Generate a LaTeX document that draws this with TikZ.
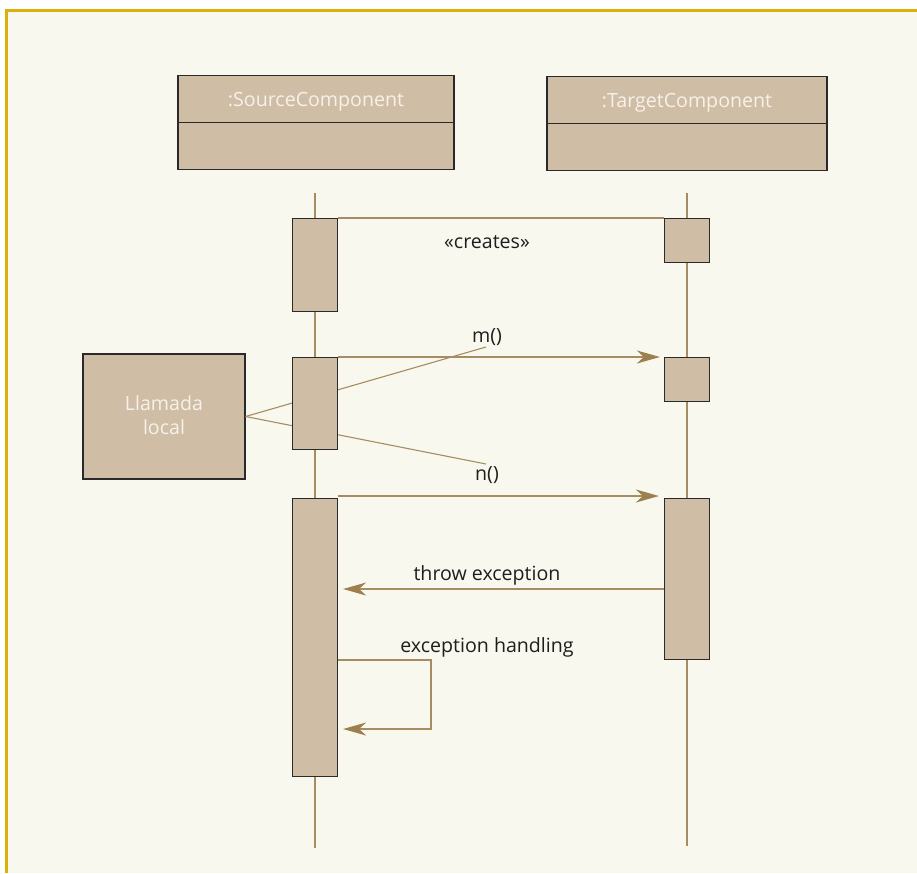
\documentclass[tikz,border=0pt]{standalone}
\usepackage{fontspec}
\setmainfont{Open Sans}
\usetikzlibrary{arrows.meta}
\definecolor{paper}{HTML}{F9F8EE}
\definecolor{frame}{HTML}{DDAF0A}
\definecolor{boxfill}{HTML}{D0BDA5}
\definecolor{boxline}{HTML}{2A2A2A}
\definecolor{wire}{HTML}{A68C62}
\definecolor{tip}{HTML}{9E7F4E}
\definecolor{ink}{HTML}{1E1E1E}
\definecolor{pale}{HTML}{F6F2EA}
\tikzset{
  headbox/.style={draw=boxline, line width=1.2pt, fill=boxfill, minimum width=276pt,
    minimum height=47pt, inner sep=0pt, anchor=north},
  actbox/.style={draw=boxline, line width=1.2pt, fill=boxfill, minimum width=45pt,
    inner sep=0pt, anchor=north},
  lifeline/.style={draw=wire, line width=1.1pt},
  msg/.style={draw=wire, line width=1.1pt},
  call/.style={msg, -{Stealth[length=23pt,width=13pt,inset=7pt,fill=tip,color=tip]}},
  lbl/.style={text=ink, font=\fontsize{19.6}{23.5}\selectfont, anchor=base, inner sep=0pt},
  wlbl/.style={text=pale, font=\fontsize{19.6}{23.5}\selectfont, anchor=base, inner sep=0pt},
}
\begin{document}
\begin{tikzpicture}[x=1pt,y=-1pt]
  \useasboundingbox (0,0) rectangle (917,873);
  % page and frame
  \fill[paper] (6,10) rectangle (917,873);
  \draw[frame, line width=3pt] (6,873) -- (6,10) -- (917,10);

  % component headers
  \node[headbox] (srcHead) at (316,75) {};
  \node[headbox, anchor=north] (srcBody) at (316,122) {};
  \node[wlbl] (srcName) at (316,106.5) {:SourceComponent};
  \node[headbox, minimum width=280pt] (tgtHead) at (687,76) {};
  \node[headbox, minimum width=280pt] (tgtBody) at (687,123) {};
  \node[wlbl] (tgtName) at (687,107) {:TargetComponent};

  % lifelines
  \coordinate (srcTop) at (315,193);
  \coordinate (srcEnd) at (315,848);
  \coordinate (tgtTop) at (687,193);
  \coordinate (tgtEnd) at (687,846);
  \draw[lifeline] (srcTop) -- (srcEnd);
  \draw[lifeline] (tgtTop) -- (tgtEnd);

  % local call note and its two leaders (they run behind the activation)
  \node[draw=boxline, line width=1.2pt, fill=boxfill, minimum width=162pt,
        minimum height=125pt, inner sep=0pt] (local) at (164,416.5) {};
  \node[wlbl] (localA) at (164,410.5) {Llamada};
  \node[wlbl] (localB) at (164,434) {local};
  \coordinate (mTail) at (486,347);
  \coordinate (nTail) at (486,464);
  \draw[msg] (local.east) -- (mTail);
  \draw[msg] (local.east) -- (nTail);

  % activations
  \node[actbox, minimum height=93pt] (sAct1) at (315,218) {};
  \node[actbox, minimum height=92pt] (sAct2) at (315,357) {};
  \node[actbox, minimum height=278pt] (sAct3) at (315,498) {};
  \node[actbox, minimum height=44pt] (tAct1) at (687,218) {};
  \node[actbox, minimum height=44pt] (tAct2) at (687,357) {};
  \node[actbox, minimum height=161pt] (tAct3) at (687,498) {};

  % messages
  \draw[msg] (sAct1.north east) -- (tAct1.north west);
  \node[lbl] (createsLbl) at (487,248) {«creates»};

  \draw[call, shorten >=4pt] (sAct2.north east) -- (tAct2.north west);
  \node[lbl] (mLbl) at (487,342.5) {m()};
  \node[lbl] (nLbl) at (487,480) {n()};

  \draw[call, shorten >=5pt] ([yshift=2pt]sAct3.north east) -- ([yshift=2pt]tAct3.north west);

  \draw[call, shorten >=5pt] (tAct3.west |- 0,589) -- (sAct3.east |- 0,589);
  \node[lbl] (throwLbl) at (487,580.5) {throw exception};

  \coordinate (loopA) at (431,660);
  \coordinate (loopB) at (431,729);
  \draw[call, shorten >=5pt] (sAct3.east |- loopA) -- (loopA) -- (loopB) -- (sAct3.east |- loopB);
  \node[lbl] (handleLbl) at (487,652) {exception handling};
\end{tikzpicture}
\end{document}
